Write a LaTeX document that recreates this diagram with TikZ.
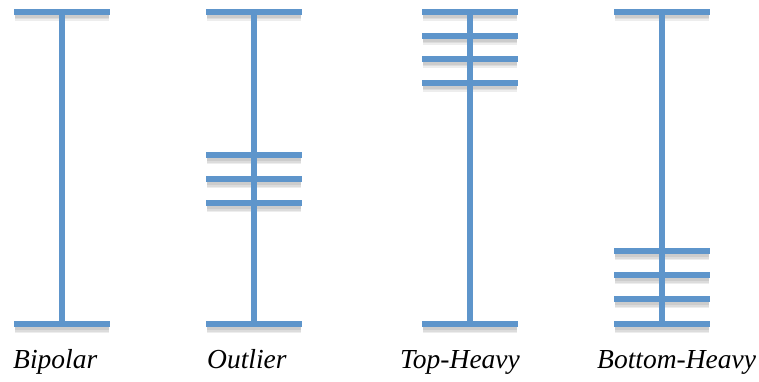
\documentclass[tikz,border=0pt]{standalone}
\usepackage{fontspec}
\setmainfont{Liberation Serif}
\definecolor{barblue}{HTML}{5E95CB}
\tikzset{
  bar/.style={barblue, line width=6pt},
  barshadow/.style={black, opacity=0.07},
  caption/.style={font=\itshape\fontsize{27.5}{32}\selectfont, anchor=base west, inner sep=0pt},
}
% one I-shaped glyph: centre x, list of cross-bar heights
\newcommand{\ibeam}[2]{%
  \foreach \yy in {#2} {
    \foreach \w in {10,7,4} {
      \draw[barshadow, line width=\w pt] (#1-47,\yy+4) -- (#1+47,\yy+4);
    }
  }
  \draw[bar] (#1,12) -- (#1,324);
  \foreach \yy in {#2} {
    \draw[bar] (#1-48,\yy) -- (#1+48,\yy);
  }
}
\begin{document}
\begin{tikzpicture}[x=1pt,y=-1pt]
  \useasboundingbox (0,0) rectangle (759,382);
  \ibeam{62}{12,324}
  \ibeam{254}{12,155,179,203,324}
  \ibeam{470}{12,36,59,83,324}
  \ibeam{662}{12,251,275,299,324}
  \node[caption] (lb1) at (13,368) {Bipolar};
  \node[caption] (lb2) at (207,368) {Outlier};
  \node[caption] (lb3) at (400,368) {Top-Heavy};
  \node[caption] (lb4) at (597,368) {Bottom-Heavy};
\end{tikzpicture}
\end{document}
